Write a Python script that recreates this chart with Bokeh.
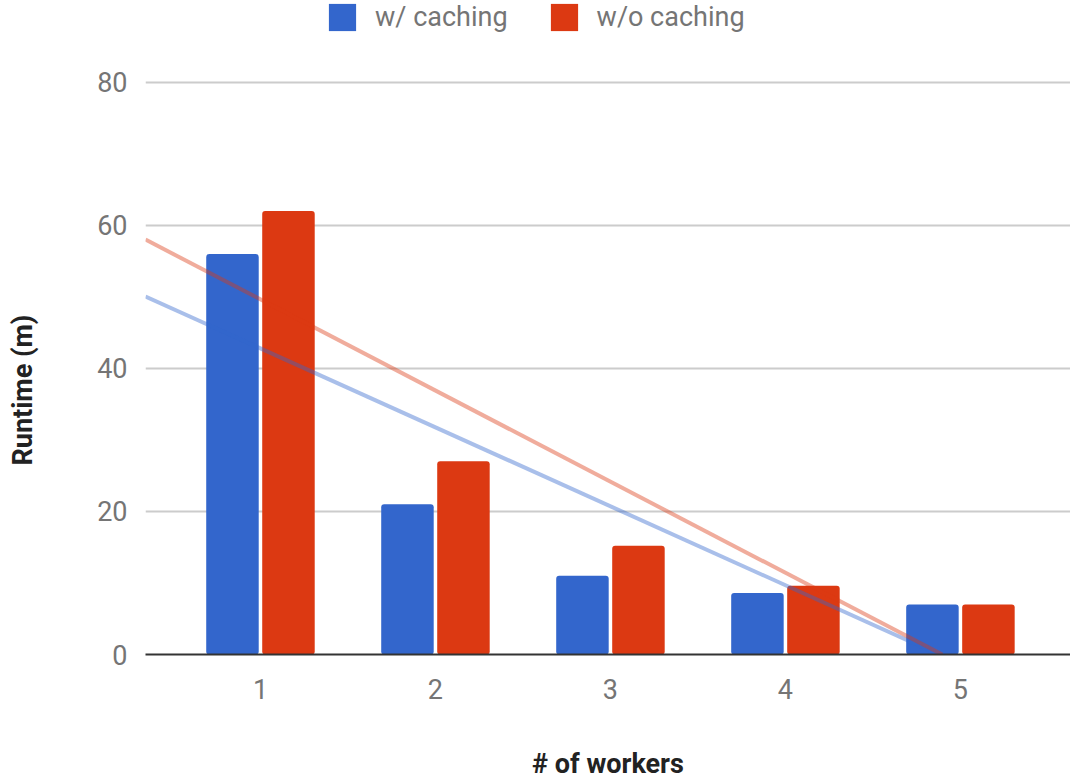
import numpy as np
from bokeh.plotting import figure
from bokeh.models import Range1d, FixedTicker, Legend, LegendItem, Title
from bokeh.embed import file_html
from bokeh.resources import INLINE

# Runtime (minutes) per number of workers
workers = [1, 2, 3, 4, 5]
with_caching = [56.0, 21.0, 11.0, 8.6, 7.0]
without_caching = [62.0, 27.0, 15.2, 9.6, 7.0]
series_names = ["w/ caching", "w/o caching"]
y_ticks = [0, 20, 40, 60, 80]

BLUE = "#3366cc"
RED = "#dc3912"
FONT = "Roboto"

x_start, x_end = 0.343, 5.629
# headroom above 80 leaves space for the legend inside the frame
y_top = 91.43

p = figure(width=1070, height=782, output_backend="svg", toolbar_location=None,
           x_range=Range1d(x_start, x_end), y_range=Range1d(0, y_top),
           min_border_left=145, min_border_right=0, min_border_top=0,
           min_border_bottom=126)
p.outline_line_color = None
p.background_fill_color = "white"
p.border_fill_color = "white"

xs = np.array(workers, dtype=float)
offset, bar_w = 0.16, 0.30
r_blue = p.vbar(x=xs - offset, top=with_caching, width=bar_w, bottom=0,
                fill_color=BLUE, line_color=None, border_radius=3)
r_red = p.vbar(x=xs + offset, top=without_caching, width=bar_w, bottom=0,
               fill_color=RED, line_color=None, border_radius=3)

# least-squares trend lines across the visible range, stopped at zero
for vals, col in ((with_caching, BLUE), (without_caching, RED)):
    m, b = np.polyfit(xs, np.array(vals), 1)
    x0 = -b / m
    lx = np.array([x_start, min(x_end, x0)])
    p.line(lx, m * lx + b, line_color=col, line_alpha=0.42, line_width=4)

# axes
p.xaxis.ticker = FixedTicker(ticks=workers)
p.yaxis.ticker = FixedTicker(ticks=y_ticks)
for ax in (p.xaxis, p.yaxis):
    ax.major_tick_line_color = None
    ax.minor_tick_line_color = None
    ax.major_label_text_font = FONT
    ax.major_label_text_font_size = "27px"
    ax.major_label_text_color = "#757575"
    ax.axis_label_text_font = FONT
    ax.axis_label_text_font_style = "bold"
    ax.axis_label_text_font_size = "27px"
    ax.axis_label_text_color = "#222222"
p.yaxis.axis_line_color = None
p.yaxis.major_label_standoff = 12
p.xaxis.axis_line_color = "#333333"
p.xaxis.axis_line_width = 2
p.xaxis.major_label_standoff = 18
p.xaxis.axis_label = "# of workers"
p.xaxis.axis_label_standoff = 46

# empty gap between the tick labels and the vertical axis title
gap = Title(text=" ", standoff=53, text_font_size="1px")
p.add_layout(gap, "left")
y_title = Title(text="Runtime (m)", align="left", offset=189, standoff=0,
                text_font=FONT, text_font_style="bold", text_font_size="27px",
                text_color="#222222")
p.add_layout(y_title, "left")

p.xgrid.grid_line_color = None
p.ygrid.grid_line_color = "#cccccc"
p.ygrid.grid_line_width = 2

legend = Legend(items=[LegendItem(label=series_names[0], renderers=[r_blue]),
                       LegendItem(label=series_names[1], renderers=[r_red])],
                orientation="horizontal", location=(180, 620),
                glyph_width=34, glyph_height=34, label_standoff=16, spacing=39,
                padding=0, margin=0, border_line_color=None,
                background_fill_alpha=0, label_text_font=FONT,
                label_text_font_size="27px", label_text_color="#757575",
                label_height=34)
p.add_layout(legend, "center")

open("out.html", "w").write(file_html(p, INLINE))
